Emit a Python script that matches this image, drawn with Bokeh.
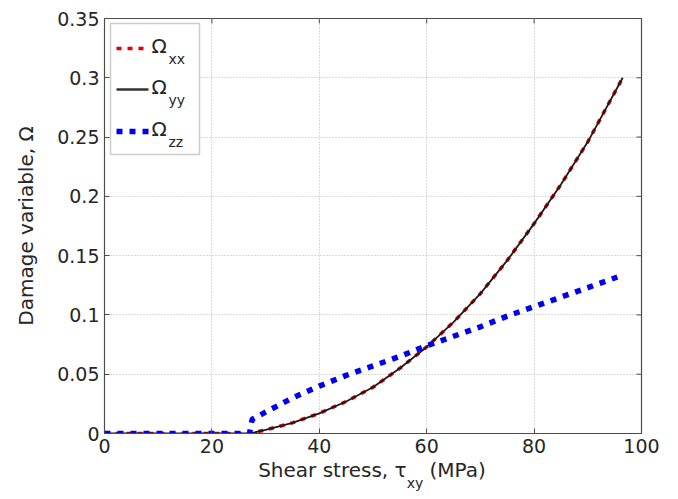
from bokeh.plotting import figure
from bokeh.models import (Range1d, FixedTicker, CustomJSTickFormatter,
                          Label, BoxAnnotation, Div)
from bokeh.layouts import column
from bokeh.embed import file_html
from bokeh.resources import INLINE

# ---- data ----
tau_xx = [0, 10, 20, 27, 30, 35, 40, 45, 50, 55, 60, 65, 70, 75, 80, 85, 90, 96.5]
omega_xx = [0, 0, 0, 0, 0.003, 0.009, 0.017, 0.027, 0.039, 0.055, 0.073, 0.094,
            0.118, 0.146, 0.177, 0.210, 0.246, 0.300]
tau_yy = [0, 10, 20, 27, 30, 35, 40, 45, 50, 55, 60, 65, 70, 75, 80, 85, 90, 96.5]
omega_yy = [0, 0, 0, 0, 0.003, 0.009, 0.017, 0.027, 0.039, 0.055, 0.073, 0.094,
            0.118, 0.146, 0.177, 0.210, 0.246, 0.300]
tau_zz = [0, 10, 20, 27, 27.5, 30, 35, 40, 45, 50, 55, 60, 65, 70, 75, 80, 85, 90, 95.5]
omega_zz = [0, 0, 0, 0, 0.012, 0.018, 0.030, 0.040, 0.049, 0.057, 0.065, 0.074,
            0.082, 0.090, 0.099, 0.107, 0.115, 0.123, 0.132]
x_ticks = [0, 20, 40, 60, 80, 100]
y_ticks = [0, 0.05, 0.1, 0.15, 0.2, 0.25, 0.3, 0.35]
legend_names = ["xx", "yy", "zz"]

# ---- layout ----
W, H = 678, 499
PH = 462                      # figure height; x-axis title sits in a Div below
FL, FR, FT, FB = 104, 641, 18, 433
XMAX, YMAX = 100, 0.35
FONT = "DejaVu Sans"
TXT = "#262626"
AX = "#4d4d4d"
TICK = 5


def dx(px):
    return (px - FL) / (FR - FL) * XMAX


def dy(py):
    return (FB - py) / (FB - FT) * YMAX


p = figure(width=W, height=PH, x_range=Range1d(0, XMAX), y_range=Range1d(0, YMAX),
           output_backend="svg", toolbar_location=None,
           min_border_left=FL, min_border_right=W - FR,
           min_border_top=FT, min_border_bottom=PH - FB,
           background_fill_color="white", border_fill_color="white")

p.outline_line_color = AX
p.outline_line_width = 1.2

fmt = CustomJSTickFormatter(code="return String(Math.round(tick*100)/100);")

for ax in p.xaxis:
    ax.ticker = FixedTicker(ticks=x_ticks)
for ax in p.yaxis:
    ax.ticker = FixedTicker(ticks=y_ticks)
    ax.formatter = fmt
    ax.axis_label = "Damage variable, \u03a9"
    ax.axis_label_standoff = 16
    ax.axis_label_text_font = FONT
    ax.axis_label_text_font_size = "20px"
    ax.axis_label_text_font_style = "normal"
    ax.axis_label_text_color = TXT

for ax in list(p.xaxis) + list(p.yaxis):
    ax.major_tick_in = TICK
    ax.major_tick_out = 0
    ax.minor_tick_in = 0
    ax.minor_tick_out = 0
    ax.major_label_text_font = FONT
    ax.major_label_text_font_size = "19px"
    ax.major_label_text_color = TXT
    ax.major_label_standoff = 5
    ax.axis_line_color = AX
    ax.major_tick_line_color = AX

p.grid.grid_line_color = "#b5b5b5"
p.grid.grid_line_dash = "1 2"
p.grid.grid_line_width = 1

# box ticks on the top and right edges (MATLAB style)
tx = dx(FL + TICK) - dx(FL)
ty = dy(FB - TICK) - dy(FB)
p.segment(x0=x_ticks, y0=[YMAX] * len(x_ticks), x1=x_ticks,
          y1=[YMAX - ty] * len(x_ticks), line_color=AX, line_width=1)
p.segment(x0=[XMAX] * len(y_ticks), y0=y_ticks, x1=[XMAX - tx] * len(y_ticks),
          y1=y_ticks, line_color=AX, line_width=1)

# ---- curves ----
p.line(tau_xx, omega_xx, line_color="#e00000", line_width=3.5, line_dash="5 6")
p.line(tau_yy, omega_yy, line_color="#1a1a1a", line_width=1.8)
p.line(tau_zz, omega_zz, line_color="#0000f0", line_width=5.5, line_dash="6 7")

# ---- legend (drawn by hand to allow subscripts) ----
box = BoxAnnotation(left=dx(110), right=dx(199), top=dy(23), bottom=dy(154),
                    fill_color="white", fill_alpha=1.0, line_color="#5a5a5a",
                    line_width=1.5)
p.add_layout(box)

rows = [48, 89, 131]
styles = [dict(line_color="#e00000", line_width=3.5, line_dash="5 6"),
          dict(line_color="#333333", line_width=2.5),
          dict(line_color="#0000f0", line_width=5.5, line_dash="6 7")]
for ry, st, sub in zip(rows, styles, legend_names):
    p.line([dx(116), dx(148)], [dy(ry), dy(ry)], level="overlay", **st)
    p.add_layout(Label(x=dx(151), y=dy(ry - 3), text="\u03a9", text_align="left",
                       text_baseline="middle", text_font=FONT, text_font_size="20px",
                       text_color=TXT))
    p.add_layout(Label(x=dx(168), y=dy(ry + 10), text=sub, text_align="left",
                       text_baseline="middle", text_font=FONT, text_font_size="14px",
                       text_color=TXT))

# ---- x axis title with subscript (HTML text below the figure) ----
xtitle = Div(
    text=("<div style=\"width:%dpx;box-sizing:border-box;padding-left:%dpx;"
          "text-align:center;font-family:'DejaVu Sans';font-size:20px;"
          "line-height:16px;color:%s;white-space:nowrap\">"
          "Shear stress, \u03c4<span style=\"font-size:14px;position:relative;"
          "top:11px\">xy</span> (MPa)</div>") % (W, 2 * ((FL + FR) // 2) - W, TXT),
    width=W, height=H - PH, margin=(0, 0, 0, 0))

layout = column(p, xtitle, spacing=0)

open("out.html", "w").write(file_html(layout, INLINE))
